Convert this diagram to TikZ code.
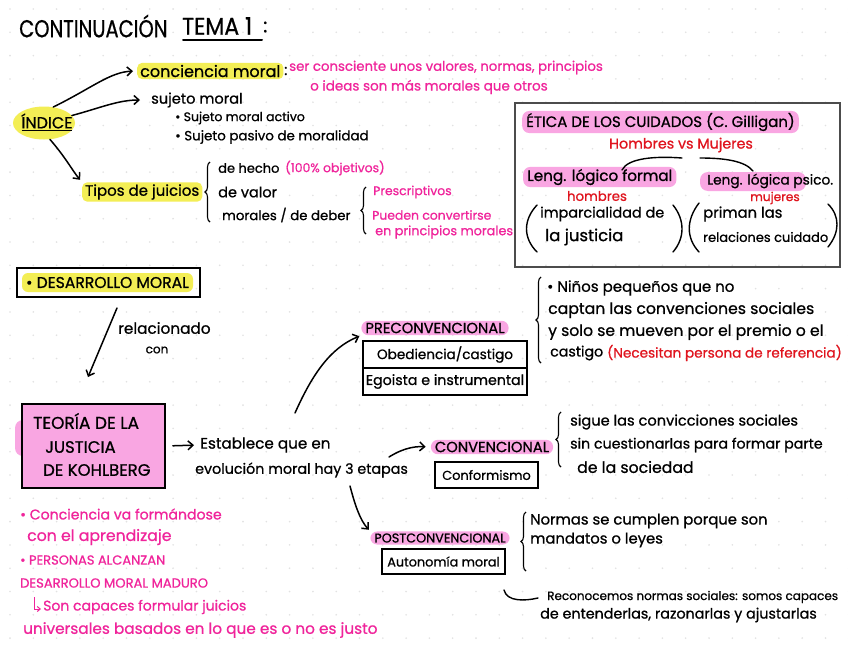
\documentclass[tikz,border=0pt]{standalone}
\usepackage{fontspec}
\setmainfont{Poppins}[FakeBold=0.8]
\usetikzlibrary{arrows.meta,decorations.pathreplacing,calc,shapes.geometric}
\definecolor{pinktext}{HTML}{F0249B}
\definecolor{pinkhl}{HTML}{F9A6E2}
\definecolor{yellowhl}{HTML}{F3EE55}
\definecolor{redtext}{HTML}{E0141E}
\definecolor{dotc}{HTML}{E2E2E2}
\tikzset{
 fs/.style={font=\fontsize{#1}{#1}\selectfont},
 txt/.style={anchor=west, inner sep=1pt, fs=14},
 pk/.style={txt, text=pinktext},
 rd/.style={txt, text=redtext},
 hly/.style={fill=yellowhl, rounded corners=5pt, inner xsep=3pt, inner ysep=2pt},
 hlp/.style={fill=pinkhl, rounded corners=7pt, inner xsep=4pt, inner ysep=2pt},
 arr/.style={line width=1.5pt, -{Straight Barb[length=5pt,width=9pt]}, line cap=round},
 brc/.style={decorate, decoration={brace, amplitude=5pt}, line width=1.1pt},
 cell/.style={draw, line width=1.2pt, inner sep=2pt},
 pline/.style={line width=1.4pt, line cap=round},
}
\begin{document}
\begin{tikzpicture}[x=1pt,y=-1pt]
\useasboundingbox (0,0) rectangle (848,656);
\fill[white] (0,0) rectangle (848,656);
% dot grid
\foreach \i in {0,...,36} \foreach \j in {0,...,28}
  \fill[dotc] (10+\i*23.3, 9+\j*23.3) circle (0.9pt);

% title
\node[txt, fs=19.5] (ti1) at (18,26) {\scalebox{1}[1.25]{CONTINUACIÓN}};
\node[txt, fs=22] (ti2) at (181,26) {\scalebox{1}[1.1]{TEMA 1}};
\node[txt, fs=19.5] (ti3) at (262,27) {:};
\coordinate (u1) at (183,40);
\coordinate (u2) at (262,40);
\draw[line width=2pt, line cap=round] (u1) -- (u2);

% index
\node[fill=yellowhl, ellipse, inner sep=0pt, minimum width=62, minimum height=33] (idxbg) at (44,123) {};
\node[fs=16, inner sep=1pt] (idx) at (47,122) {\underline{ÍNDICE}};

\node[txt, hly, fs=16] (cm) at (137,71) {conciencia moral};
\node[txt, fs=15] (cmc) at (283,71) {:};
\node[pk, fs=13.3, inner ysep=0pt] (cd1) at (288,67.5) {ser consciente unos valores, normas, principios};
\node[pk, fs=13.5, inner ysep=0pt] (cd2) at (309,87) {o ideas son más morales que otros};

\node[txt, fs=14.6] (sm) at (150,100) {sujeto moral};
\node[txt, fs=12.5] (sa) at (174,118) {• Sujeto moral activo};
\node[txt, fs=13.4] (sp) at (174,137) {• Sujeto pasivo de moralidad};

\node[txt, hly, fs=15] (tj) at (82,192) {Tipos de juicios};

\draw[arr, shorten >=4pt] (idxbg.60) .. controls (92,88) and (110,72) .. (cm.west);
\draw[arr, shorten >=10pt] (idxbg.15) .. controls (100,108) and (118,100) .. (sm.west);
\draw[arr, shorten >=3pt] (idxbg.290) .. controls (66,158) and (72,170) .. (tj.north west);

\draw[brc] (210,222) -- (210,162);
\node[txt, fs=13] (dh) at (217,168) {de hecho};
\node[pk, fs=12.4] (dho) at (284,168) {(100\% objetivos)};
\node[txt, fs=14.5] (dv) at (217,192) {de valor};
\node[txt, fs=13.3] (md) at (221,215) {morales / de deber};
\draw[brc] (366,234) -- (366,187);
\node[pk, fs=12.4] (pr) at (372,192) {Prescriptivos};
\node[pk, fs=12.4] (pc1) at (371,215) {Pueden convertirse};
\node[pk, fs=12.8] (pc2) at (374,232) {en principios morales};

% Gilligan box
\node[draw=black!70, line width=1.7pt, minimum width=325, minimum height=164, inner sep=0pt] (gbox) at (677.5,185) {};
\node[txt, hlp, fs=15] (gt) at (522,122) {ÉTICA DE LOS CUIDADOS (C. Gilligan)};
\node[text=redtext, fs=14.3, inner sep=1pt] (hm) at (681,145) {Hombres vs Mujeres};
\node[txt, hlp, fs=15.2] (l1) at (523,177) {Leng. lógico formal};
\fill[pinkhl, rounded corners=8pt] (700,172) rectangle (806,191);
\node[txt, fs=13.7] (l2) at (706,181) {Leng. lógica psico.};
\draw[pline] (622,170) .. controls (628,158) and (655,156) .. (682,158);
\draw[pline] (700,158) .. controls (725,158) and (745,161) .. (753,171);
\node[text=redtext, fs=13.3, inner sep=1pt] (h1) at (597,196) {hombres};
\node[text=redtext, fs=12.2, inner sep=1pt] (m1) at (775,198) {mujeres};
\draw[pline] (537,205) .. controls (523,220) and (523,238) .. (537,252);
\draw[pline] (673,205) .. controls (685,220) and (685,238) .. (673,252);
\draw[pline] (699,203) .. controls (686,220) and (686,238) .. (699,252);
\draw[pline] (828,204) .. controls (840,216) and (840,232) .. (828,247);
\node[txt, fs=14.4] (ip1) at (539,214) {imparcialidad de};
\node[txt, fs=16.5] (ip2) at (544,237) {la justicia};
\node[txt, fs=14.8] (pl1) at (702,214) {priman las};
\node[txt, fs=13] (pl2) at (702,237) {relaciones cuidado};

% Desarrollo moral
\node[draw, line width=1.7pt, minimum width=183, minimum height=29, inner sep=0pt] (dmbox) at (108.5,282.5) {};
\node[fill=yellowhl, rounded corners=6pt, fs=15.6, minimum width=171, minimum height=19, inner sep=0pt] (dm) at (107.5,282.5) {• DESARROLLO MORAL};
\coordinate (r1) at (117,308);
\coordinate (r2) at (88,377);
\draw[arr] (r1) -- (r2);
\node[txt, fs=15.3] (rel1) at (117,328) {relacionado};
\node[fs=12, inner sep=1pt] (rel2) at (157,350) {con};

% Kohlberg
\fill[pinkhl, rounded corners=8pt] (15,420) rectangle (40,456);
\node[draw, fill=pinkhl, line width=1.7pt, minimum width=143, minimum height=84, inner sep=0pt] (kb) at (93.5,446) {};
\node[txt, fs=17] (kb1) at (32,421) {TEORÍA DE LA};
\node[txt, fs=16.5] (kb2) at (44,447) {JUSTICIA};
\node[txt, fs=16.5] (kb3) at (42,470) {DE KOHLBERG};

\node[txt, fs=15.2] (es1) at (199,445) {Establece que en};
\node[txt, fs=14.3] (es2) at (194,470) {evolución moral hay 3 etapas};
\draw[arr, shorten <=7pt, shorten >=5pt] (kb.east) -- (es1.west);

% Preconvencional
\node[hlp, fs=14.7] (pre) at (435,328) {PRECONVENCIONAL};
\node[cell, fs=13.6, minimum width=164, minimum height=27] (c1) at (445,354.5) {Obediencia/castigo};
\node[cell, fs=14.2, minimum width=164, minimum height=27] (c2) at (445,381.5) {Egoista e instrumental};
\coordinate (s1) at (295,413);
\draw[arr, shorten >=2pt] (s1) .. controls (312,375) and (330,348) .. (pre.south west);

\draw[brc] (541,363) -- (541,277);
\node[txt, fs=15] (n1) at (546,288) {• Niños pequeños que no};
\node[txt, fs=15.7] (n2) at (547,310) {captan las convenciones sociales};
\node[txt, fs=15.6] (n3) at (547,332) {y solo se mueven por el premio o el};
\node[txt, fs=14.2] (n4) at (549,353) {castigo};
\node[rd, fs=13.6] (n5) at (606,353) {(Necesitan persona de referencia)};

% Convencional
\node[hlp, fs=14.7] (con) at (492,447) {CONVENCIONAL};
\node[cell, fs=12.9, minimum width=103, minimum height=26] (cf) at (486.5,475) {Conformismo};
\coordinate (s2) at (389,457);
\draw[arr, shorten >=5pt] (s2) .. controls (400,450) and (412,446) .. (con.west);
\draw[brc] (561,467) -- (561,412);
\node[txt, fs=14.6] (v1) at (569,422) {sigue las convicciones sociales};
\node[txt, fs=14.2] (v2) at (569,445) {sin cuestionarlas para formar parte};
\node[txt, fs=15.7] (v3) at (576,467) {de la sociedad};

% Postconvencional
\node[hlp, fs=12.8, minimum width=134] (post) at (440,538) {POSTCONVENCIONAL};
\node[cell, fs=12.8, minimum width=123, minimum height=25] (am) at (443.5,561.5) {Autonomía moral};
\coordinate (s3) at (350,486);
\draw[arr, shorten >=2pt] (s3) .. controls (355,505) and (360,520) .. (post.north west);
\draw[brc] (526,571) -- (526,512);
\node[txt, fs=14.8] (no1) at (529,521) {Normas se cumplen porque son};
\node[txt, fs=14.8] (no2) at (529,540) {mandatos o leyes};
\coordinate (k1) at (504,590);
\coordinate (k2) at (538,598);
\draw[pline] (k1) .. controls (507,602) and (525,601) .. (k2);
\node[txt, fs=12] (re1) at (546,597) {Reconocemos normas sociales: somos capaces};
\node[txt, fs=14.3] (re2) at (539,615) {de entenderlas, razonarlas y ajustarlas};

% pink notes
\node[pk, fs=14.1] (p1) at (19,514) {• Conciencia va formándose};
\node[pk, fs=15.7] (p2) at (26,537) {con el aprendizaje};
\node[pk, fs=13] (p3) at (19,560) {• PERSONAS ALCANZAN};
\node[pk, fs=13.1] (p4) at (19,583) {DESARROLLO MORAL MADURO};
\node[pk, fs=14] (p5) at (42,607) {Son capaces formular juicios};
\coordinate (q1) at (34,597);
\coordinate (q2) at (41,609);
\draw[pinktext, line width=1pt, -{Straight Barb[length=3pt,width=5pt]}] (q1) |- (q2);
\node[pk, fs=15.3] (p6) at (22,630) {universales basados en lo que es o no es justo};
\end{tikzpicture}
\end{document}
